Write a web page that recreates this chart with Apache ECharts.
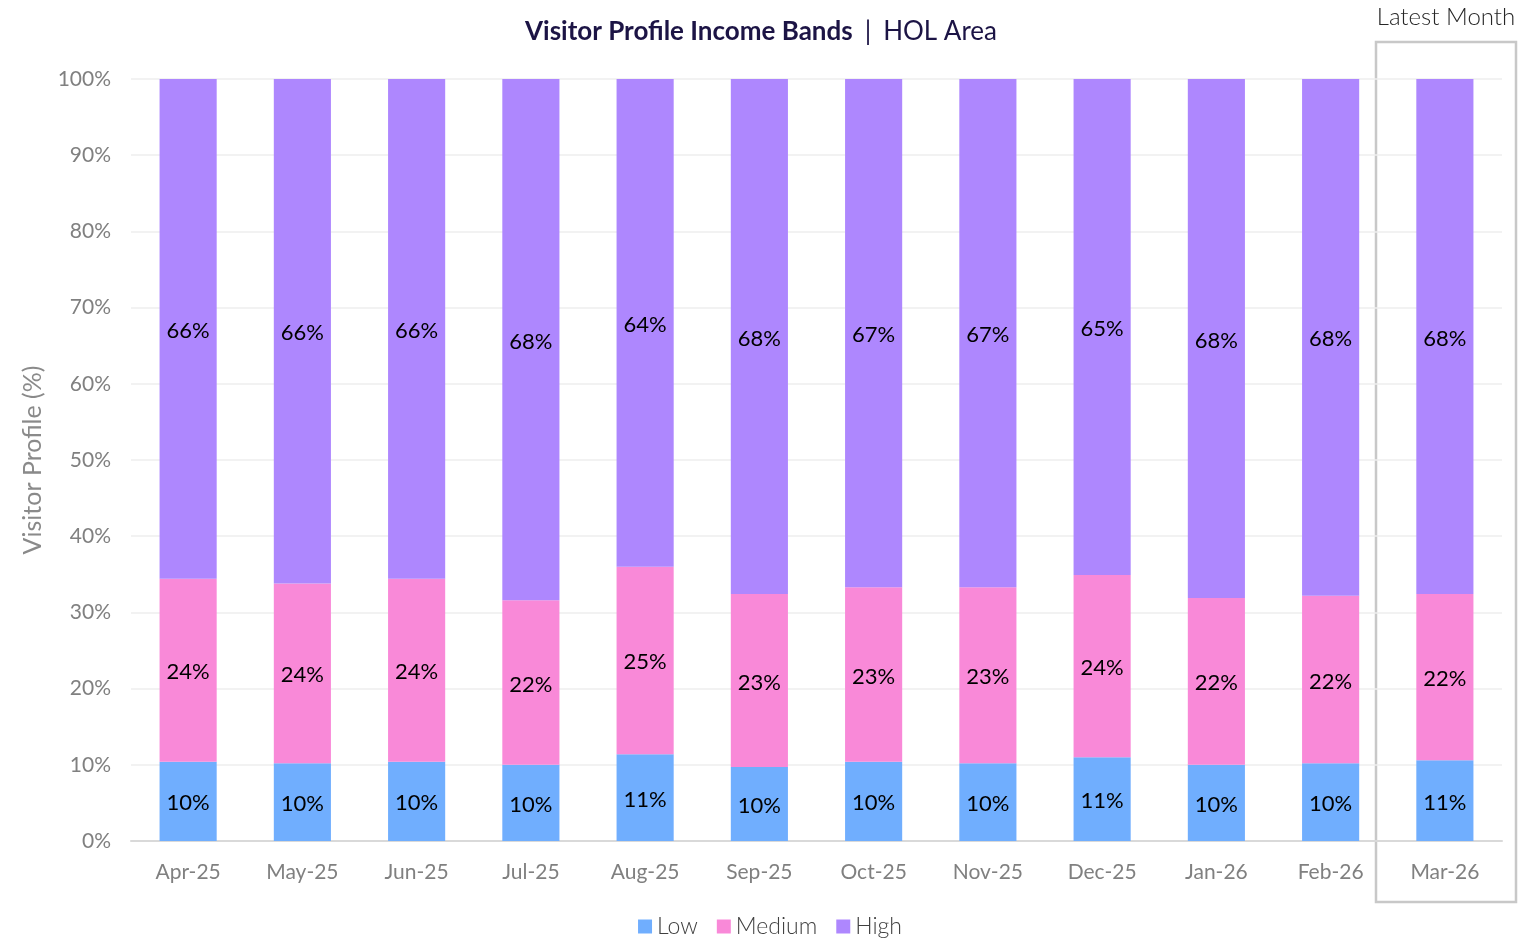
<!DOCTYPE html>
<html>
<head>
<meta charset="utf-8">
<title>Visitor Profile Income Bands</title>
<script src="https://cdn.jsdelivr.net/npm/echarts@6/dist/echarts.min.js"></script>
<style>
  html, body { margin: 0; padding: 0; background: #ffffff; }
  #chart { width: 1540px; height: 940px; }
</style>
</head>
<body>
<div id="chart"></div>
<script>
// Monthly categories
const months = ['Apr-25', 'May-25', 'Jun-25', 'Jul-25', 'Aug-25', 'Sep-25',
                'Oct-25', 'Nov-25', 'Dec-25', 'Jan-26', 'Feb-26', 'Mar-26'];

// Share of visitors by income band (%)
const low    = [10.4, 10.2, 10.4, 10.0, 11.4, 9.7, 10.4, 10.2, 11.0, 10.0, 10.2, 10.6];
const medium = [24.0, 23.6, 24.0, 21.6, 24.6, 22.7, 22.9, 23.1, 23.9, 21.9, 22.0, 21.8];
const high   = [65.6, 66.2, 65.6, 68.4, 64.0, 67.6, 66.7, 66.7, 65.1, 68.1, 67.8, 67.6];

const yTicks = [0, 10, 20, 30, 40, 50, 60, 70, 80, 90, 100];

const FONT = 'Lato, "Open Sans", sans-serif';

const chart = echarts.init(document.getElementById('chart'), null, { renderer: 'canvas' });

function seriesOf(name, data, color) {
  return {
    name: name,
    type: 'bar',
    stack: 'total',
    data: data,
    barWidth: '50%',
    itemStyle: { color: color },
    label: {
      show: true,
      position: 'inside',
      formatter: p => Math.round(p.value) + '%',
      color: '#000000',
      fontFamily: FONT,
      fontSize: 22,
      offset: [0, 2]
    },
    emphasis: { disabled: true }
  };
}

chart.setOption({
  animation: false,
  backgroundColor: '#ffffff',
  title: {
    text: '{b|Visitor Profile Income Bands}{s||}{n|HOL Area}',
    left: 756,
    textAlign: 'center',
    top: 14,
    textStyle: {
      rich: {
        b: { fontFamily: FONT, fontSize: 26, fontWeight: 'bold', color: '#1c1445' },
        s: { fontFamily: FONT, fontSize: 26, fontWeight: 'normal', color: '#1c1445', padding: [0, 12, 0, 12] },
        n: { fontFamily: FONT, fontSize: 26, fontWeight: 'normal', color: '#1c1445' }
      }
    }
  },
  legend: {
    top: 910,
    left: 'center',
    itemWidth: 14,
    itemHeight: 14,
    itemGap: 19,
    icon: 'rect',
    textStyle: { fontFamily: FONT, fontSize: 23, fontWeight: 300, color: '#404040' },
    data: ['Low', 'Medium', 'High']
  },
  grid: {
    left: 131,
    right: 38,
    top: 79,
    bottom: 99,
    containLabel: false
  },
  xAxis: {
    type: 'category',
    data: months,
    axisLine: { show: true, lineStyle: { color: '#d9d9d9', width: 2 } },
    axisTick: { show: false },
    axisLabel: { fontFamily: FONT, fontSize: 21, color: '#808080', margin: 21 }
  },
  yAxis: {
    type: 'value',
    min: yTicks[0],
    max: yTicks[yTicks.length - 1],
    interval: 10,
    name: 'Visitor Profile (%)',
    nameLocation: 'middle',
    nameRotate: 90,
    nameGap: 86,
    nameTextStyle: { fontFamily: FONT, fontSize: 25, color: '#8a8a8a' },
    axisLine: { show: false },
    axisTick: { show: false },
    axisLabel: { fontFamily: FONT, fontSize: 21, color: '#808080', margin: 20, formatter: '{value}%' },
    splitLine: { lineStyle: { color: '#eeeeee', width: 1.5 } }
  },
  series: [
    seriesOf('Low', low, '#70aefe'),
    seriesOf('Medium', medium, '#f989d8'),
    seriesOf('High', high, '#ae87fe')
  ],
  graphic: [
    {
      type: 'rect',
      shape: { x: 1376, y: 42, width: 140, height: 860 },
      style: { fill: 'none', stroke: '#c8c8c8', lineWidth: 2.5 },
      silent: true
    },
    {
      type: 'text',
      x: 1446,
      y: 17,
      style: {
        text: 'Latest Month',
        fontFamily: FONT,
        fontSize: 24,
        fontWeight: 300,
        fill: '#262626',
        align: 'center',
        verticalAlign: 'middle'
      },
      silent: true
    }
  ]
});
</script>
</body>
</html>
